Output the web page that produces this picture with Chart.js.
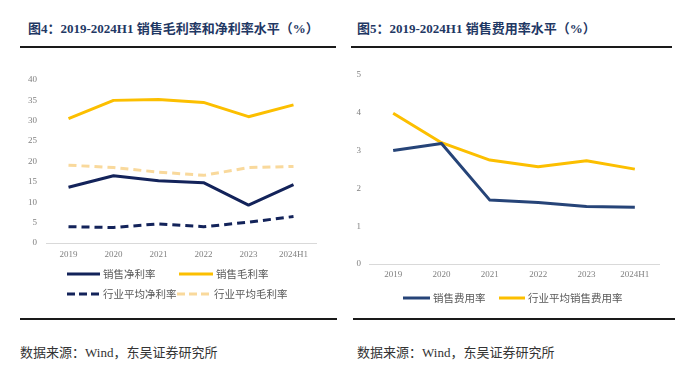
<!DOCTYPE html>
<html><head><meta charset="utf-8">
<script src="https://cdn.jsdelivr.net/npm/chart.js@4.4.1/dist/chart.umd.min.js"></script>
<style>
html,body{margin:0;padding:0;background:#fff;}
body{width:700px;height:385px;position:relative;overflow:hidden;font-family:"Noto Sans CJK SC","Noto Sans",sans-serif;}
.title{position:absolute;top:19px;font-size:13px;font-weight:bold;color:#1f3864;white-space:nowrap;line-height:18px;}
.title .s{font-family:"Liberation Serif","DejaVu Serif",serif;}
.rule{position:absolute;height:2px;background:#1a1a1a;}
.src{position:absolute;top:343px;font-size:13px;color:#333;white-space:nowrap;line-height:18px;}
.src .s{font-family:"Liberation Serif",serif;}
.lg{position:absolute;font-size:10.5px;color:#595959;white-space:nowrap;line-height:14px;height:14px;}
.lg svg{position:absolute;top:5px;left:0;}
.lg span{position:absolute;top:0;}
.cv{position:absolute;}
</style></head>
<body>
<div class="title" style="left:28px;">图<span class="s">4</span>：<span class="s">2019-2024H1 </span>销售毛利率和净利率水平（<span class="s">%</span>）</div>
<div class="title" style="left:357px;">图<span class="s">5</span>：<span class="s">2019-2024H1 </span>销售费用率水平（<span class="s">%</span>）</div>
<div class="rule" style="left:20px;width:316px;top:46px;"></div>
<div class="rule" style="left:351px;width:321px;top:46px;"></div>
<div class="rule" style="left:20px;width:317px;top:318px;"></div>
<div class="rule" style="left:353px;width:322px;top:318px;"></div>
<div class="src" style="left:20px;">数据来源：<span class="s">Wind</span>，东吴证券研究所</div>
<div class="src" style="left:357px;">数据来源：<span class="s">Wind</span>，东吴证券研究所</div>

<div class="cv" style="left:0;top:60px;width:340px;height:210px;"><canvas id="c1" width="340" height="210"></canvas></div>
<div class="cv" style="left:340px;top:60px;width:360px;height:225px;"><canvas id="c2" width="360" height="225"></canvas></div>
<div id="lg1"></div>
<div id="lg2"></div>

<script>
// ---- data ----
const categories = ['2019','2020','2021','2022','2023','2024H1'];
const netMargin = [13.7, 16.5, 15.3, 14.8, 9.3, 14.3];          // 销售净利率
const grossMargin = [30.5, 35.0, 35.2, 34.5, 31.0, 33.9];       // 销售毛利率
const industryNetMargin = [4.0, 3.8, 4.7, 4.0, 5.1, 6.5];       // 行业平均净利率
const industryGrossMargin = [19.1, 18.5, 17.4, 16.6, 18.5, 18.8]; // 行业平均毛利率
const sellingExpense = [3.0, 3.19, 1.69, 1.63, 1.52, 1.50];     // 销售费用率
const industrySellingExpense = [3.99, 3.21, 2.75, 2.57, 2.73, 2.51]; // 行业平均销售费用率
const yTicks1 = [0,5,10,15,20,25,30,35,40];
const yTicks2 = [0,1,2,3,4,5];

const NAVY = '#13235a', GOLD = '#fcbf00', LIGHT = '#f9d99c', NAVY2 = '#264478';
const tickFont = {family:'"Liberation Serif","DejaVu Serif",serif', size:9};
const tickColor = '#808080';

function makeOpts(yTicks, yW, yPad, xH, xPad, padTop, padRight){
  return {
    responsive:false, animation:false,
    layout:{padding:{top:padTop,right:padRight,left:0,bottom:0}},
    plugins:{legend:{display:false},tooltip:{enabled:false}},
    elements:{point:{radius:0},line:{tension:0,borderCapStyle:'butt',borderJoinStyle:'round'}},
    scales:{
      x:{offset:true,
         grid:{display:false,drawTicks:false},
         border:{display:true,color:'#d9d9d9',width:1},
         ticks:{font:tickFont,color:tickColor,padding:xPad,maxRotation:0,autoSkip:false},
         afterFit:s=>{s.height=xH;}},
      y:{min:yTicks[0],max:yTicks[yTicks.length-1],
         grid:{display:false,drawTicks:false},
         border:{display:false},
         ticks:{font:tickFont,color:tickColor,padding:yPad},
         afterBuildTicks:s=>{s.ticks=yTicks.map(v=>({value:v}));},
         afterFit:s=>{s.width=yW;}}
    }
  };
}

function ds(label,data,color,dash){
  return {label,data,borderColor:color,backgroundColor:color,borderWidth:3,borderDash:dash||[],pointRadius:0,fill:false};
}

new Chart(document.getElementById('c1'),{
  type:'line',
  data:{labels:categories,datasets:[
    ds('销售净利率',netMargin,NAVY),
    ds('销售毛利率',grossMargin,GOLD),
    ds('行业平均净利率',industryNetMargin,NAVY,[8,5]),
    ds('行业平均毛利率',industryGrossMargin,LIGHT,[8,5])
  ]},
  options:makeOpts(yTicks1,46,9,27,6,20,24)
});

new Chart(document.getElementById('c2'),{
  type:'line',
  data:{labels:categories,datasets:[
    ds('销售费用率',sellingExpense,NAVY2),
    ds('行业平均销售费用率',industrySellingExpense,GOLD)
  ]},
  options:makeOpts(yTicks2,29,8,21,5,15,41)
});

// ---- legends ----
function legendItem(parent,x,y,w,label,color,dash){
  const d=document.createElement('div');
  d.className='lg';d.style.left=x+'px';d.style.top=(y-7)+'px';
  const da = dash ? ' stroke-dasharray="'+dash.join(',')+'"' : '';
  d.innerHTML='<svg width="'+w+'" height="4"><line x1="0" y1="2" x2="'+w+'" y2="2" stroke="'+color+'" stroke-width="3"'+da+'/></svg><span style="left:'+(w+3)+'px">'+label+'</span>';
  parent.appendChild(d);
}
const lg1=document.getElementById('lg1'), lg2=document.getElementById('lg2');
legendItem(lg1,67,274,33,'销售净利率',NAVY);
legendItem(lg1,179,274,34,'销售毛利率',GOLD);
legendItem(lg1,67,294,33,'行业平均净利率',NAVY,[8,4]);
legendItem(lg1,177,294,34,'行业平均毛利率',LIGHT,[8,4]);
legendItem(lg2,403,298,27,'销售费用率',NAVY2);
legendItem(lg2,499,298,26,'行业平均销售费用率',GOLD);
</script>
</body></html>
